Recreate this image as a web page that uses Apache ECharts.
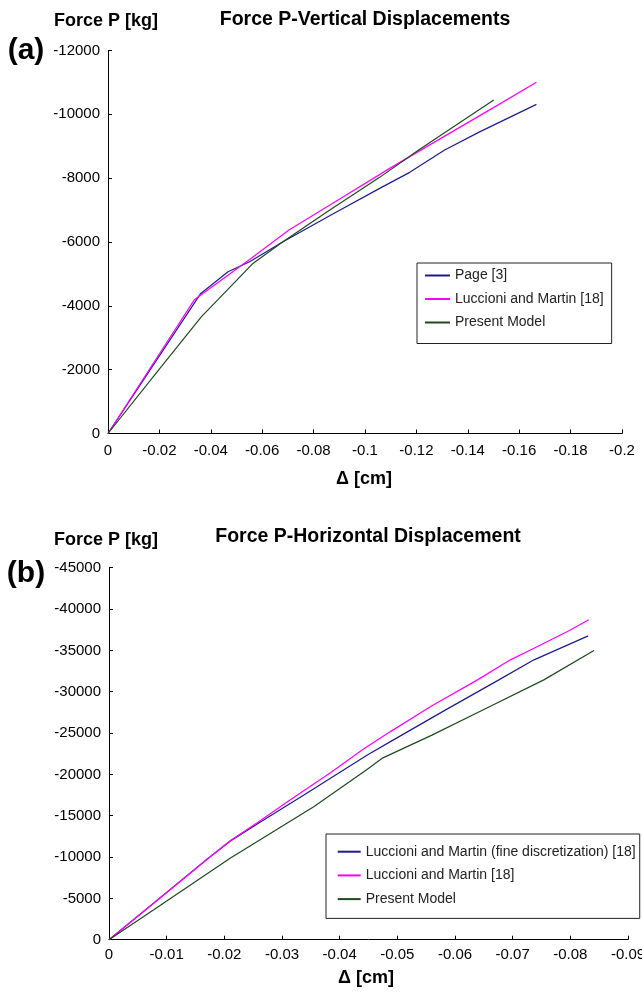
<!DOCTYPE html>
<html>
<head>
<meta charset="utf-8">
<script src="https://cdn.jsdelivr.net/npm/echarts@6/dist/echarts.min.js"></script>
<style>
  html, body { margin: 0; padding: 0; background: #fff; }
  #main { width: 642px; height: 994px; }
</style>
</head>
<body>
<div id="main"></div>
<script>
// (a) force vs vertical displacement  [delta cm, P kg]
var vertPage = [[0,0],[-0.0361,-4389],[-0.0467,-5066],[-0.0551,-5379],[-0.0681,-6006],[-0.0880,-6900],[-0.1057,-7680],[-0.1174,-8182],[-0.1310,-8881],[-0.1446,-9450],[-0.1667,-10313]];
var vertLuccioni = [[0,0],[-0.0337,-4200],[-0.0551,-5455],[-0.0704,-6373],[-0.0900,-7340],[-0.1096,-8307],[-0.1300,-9270],[-0.1500,-10210],[-0.1667,-11003]];
var vertPresent = [[0,0],[-0.0202,-2037],[-0.0363,-3655],[-0.0564,-5329],[-0.0675,-5975],[-0.0860,-6990],[-0.1057,-8025],[-0.1213,-8903],[-0.1501,-10448]];

// (b) force vs horizontal displacement
var horzFine = [[0,0],[-0.0063,-3584],[-0.0170,-9722],[-0.0210,-11900],[-0.0257,-14000],[-0.0338,-17507],[-0.0448,-22350],[-0.0488,-23960],[-0.0580,-27650],[-0.0676,-31430],[-0.0737,-33853],[-0.0783,-35266],[-0.0831,-36757]];
var horzLuccioni = [[0,0],[-0.0063,-3584],[-0.0170,-9722],[-0.0210,-11974],[-0.0257,-14154],[-0.0314,-16901],[-0.0384,-20207],[-0.0442,-23100],[-0.0488,-25171],[-0.0560,-28300],[-0.0639,-31430],[-0.0696,-33853],[-0.0737,-35266],[-0.0795,-37277],[-0.0832,-38694]];
var horzPresent = [[0,0],[-0.0077,-3584],[-0.0210,-9843],[-0.0355,-16090],[-0.0448,-20619],[-0.0475,-22000],[-0.0560,-24750],[-0.0650,-27850],[-0.0754,-31430],[-0.0841,-34977]];

var namesA = ['Page [3]','Luccioni and Martin [18]','Present Model'];
var namesB = ['Luccioni and Martin (fine discretization) [18]','Luccioni and Martin [18]','Present Model'];

// axis ranges
var xRangeA = [-0.2, 0, 0.02], yRangeA = [-12000, 0, 2000];
var xRangeB = [-0.09, 0, 0.01], yRangeB = [-45000, 0, 5000];

var FONT = '"Liberation Sans", Arial, sans-serif';
var BLUE = '#1c1c8c', PINK = '#ff00ff', GREEN = '#1e4a1e';

function xAxisOf(r, idx, margin){
	return {
		type:'value', gridIndex:idx, min:r[0], max:r[1], interval:r[2], inverse:true,
		axisLine:{show:true, onZero:false, lineStyle:{color:'#000', width:1}},
		axisTick:{show:true, inside:true, length:4, lineStyle:{color:'#000'}},
		splitLine:{show:false},
		axisLabel:{color:'#000', fontSize:15, fontFamily:FONT, margin:margin, hideOverlap:false,
			formatter:function(v){ return v === 0 ? '0' : String(+v.toFixed(2)); }}
	};
}
function yAxisOf(r, idx){
	return {
		type:'value', gridIndex:idx, min:r[0], max:r[1], interval:r[2], inverse:true,
		axisLine:{show:true, onZero:false, lineStyle:{color:'#000', width:1}},
		axisTick:{show:true, inside:true, length:4, lineStyle:{color:'#000'}},
		splitLine:{show:false},
		axisLabel:{color:'#000', fontSize:15, fontFamily:FONT, margin:8,
			formatter:function(v){ return String(v); }}
	};
}
function line(name, data, color, idx){
	return {
		name:name, type:'line', xAxisIndex:idx, yAxisIndex:idx, data:data,
		symbol:'none', animation:false,
		lineStyle:{color:color, width:1.2}, itemStyle:{color:color}
	};
}
function legendOf(names, left, top, itemWidth, itemGap, padding){
	return {
		data:names, orient:'vertical', left:left, top:top,
		itemWidth:itemWidth, itemHeight:14, itemGap:itemGap, padding:padding,
		borderColor:'#222', borderWidth:1, backgroundColor:'#fff',
		itemStyle:{opacity:0},
		textStyle:{color:'#222', fontSize:14, fontFamily:FONT, lineHeight:14}
	};
}
function label(text, x, y, size){
	return {
		type:'text', x:x, y:y, z:10,
		style:{text:text, fill:'#000', font:'bold ' + size + 'px ' + FONT, align:'center', verticalAlign:'middle'}
	};
}

var myChart = echarts.init(document.getElementById('main'));
var option = {
	backgroundColor:'#fff',
	animation:false,
	grid:[
		{left:108, right:20, top:50.5, height:383, outerBoundsMode:'none'},
		{left:109, right:14, top:567.7, height:372, outerBoundsMode:'none'}
	],
	xAxis:[xAxisOf(xRangeA, 0, 10), xAxisOf(xRangeB, 1, 8)],
	yAxis:[yAxisOf(yRangeA, 0), yAxisOf(yRangeB, 1)],
	legend:[
		legendOf(namesA, 417, 263, 25, 9.5, [5.5, 8, 14, 7]),
		legendOf(namesB, 326, 834, 23, 9.7, [10.7, 4, 12.3, 10.7])
	],
	graphic:[
		label('Force P [kg]', 106, 21, 18),
		label('Force P-Vertical Displacements', 365, 20, 19.5),
		label('(a)', 26, 51, 30),
		label('\u0394 [cm]', 364, 479, 18),
		label('Force P [kg]', 106, 540, 18),
		label('Force P-Horizontal Displacement', 368, 537, 19.5),
		label('(b)', 26, 574, 30),
		label('\u0394 [cm]', 366, 978, 18)
	],
	series:[
		line(namesA[0], vertPage, BLUE, 0),
		line(namesA[1], vertLuccioni, PINK, 0),
		line(namesA[2], vertPresent, GREEN, 0),
		line(namesB[0], horzFine, BLUE, 1),
		line(namesB[1], horzLuccioni, PINK, 1),
		line(namesB[2], horzPresent, GREEN, 1)
	]
};
myChart.setOption(option);
</script>
</body>
</html>
